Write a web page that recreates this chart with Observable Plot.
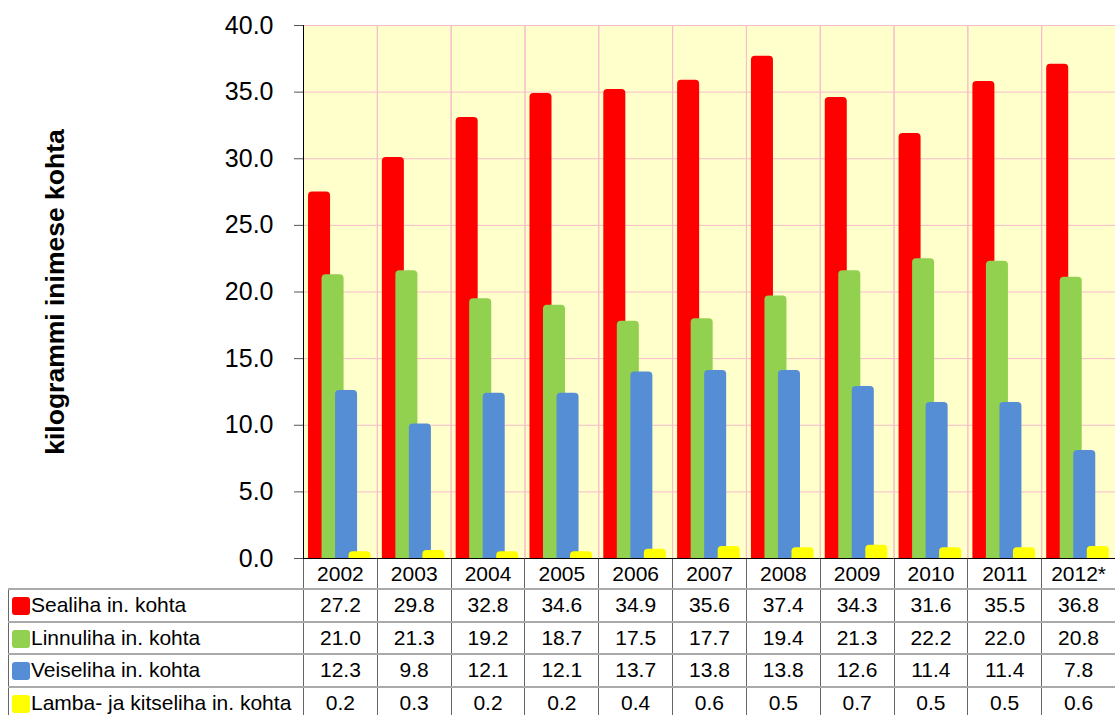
<!DOCTYPE html>
<html><head><meta charset="utf-8">
<script src="https://cdn.jsdelivr.net/npm/d3@7"></script>
<script src="https://cdn.jsdelivr.net/npm/@observablehq/plot@0.6"></script>
<style>
body{margin:0;background:#fff;font-family:"Liberation Sans",Arial,sans-serif;}
#wrap{position:relative;width:1115px;height:715px;overflow:hidden;background:#fff;}
#chart{position:absolute;left:0;top:0;z-index:1;}
#tbl{position:absolute;left:8px;top:558px;border-collapse:collapse;table-layout:fixed;width:1107px;font-size:21px;color:#000;}
#tbl td{padding:0;text-align:center;border-left:1px solid #666;border-right:1px solid #666;border-top:2px solid #aaa;border-bottom:2px solid #aaa;white-space:nowrap;overflow:hidden;}
#tbl tr.yr td{height:30px;border-top:none;}
#tbl tr.yr td.blank{border-left:none;border-top:none;}
#tbl tr.row td{height:30.5px;}
#tbl td.name{text-align:left;padding-left:3px;}
.sw{display:inline-block;width:18px;height:18px;border-radius:3px;vertical-align:-3px;margin-right:1px;}
g[aria-label="y-axis label"] text{font-weight:bold;font-size:26.5px;}
</style></head><body>
<div id="wrap"><div id="chart"></div><table id="tbl"></table></div>
<script>
const years = ["2002","2003","2004","2005","2006","2007","2008","2009","2010","2011","2012*"];
const seriesNames = ["Sealiha in. kohta","Linnuliha in. kohta","Veiseliha in. kohta","Lamba- ja kitseliha in. kohta"];
const seriesColors = ["#FF0000","#92D050","#558ED5","#FFFF00"];
const pork    = [27.2,29.8,32.8,34.6,34.9,35.6,37.4,34.3,31.6,35.5,36.8];
const poultry = [21.0,21.3,19.2,18.7,17.5,17.7,19.4,21.3,22.2,22.0,20.8];
const beef    = [12.3,9.8,12.1,12.1,13.7,13.8,13.8,12.6,11.4,11.4,7.8];
const lamb    = [0.2,0.3,0.2,0.2,0.4,0.6,0.5,0.7,0.5,0.5,0.6];
const yTicks  = [0,5,10,15,20,25,30,35,40];
const yTitle  = "kilogrammi inimese kohta";

const seriesValues = [pork, poultry, beef, lamb];
const data = seriesNames.flatMap((s,i)=>years.map((yr,j)=>({series:s, year:yr, value:seriesValues[i][j]})));

const pink = "#F7BCCB";
const chart = Plot.plot({
  width:1115, height:590,
  marginLeft:303, marginRight:0, marginTop:25, marginBottom:32,
  style:{background:"transparent", fontFamily:"Liberation Sans, Arial, sans-serif", color:"#000"},
  fx:{domain:years, padding:0, round:false, label:null},
  x:{domain:seriesNames, paddingInner:0, paddingOuter:0.73, align:0.47, round:false, axis:null},
  y:{domain:[0,40]},
  color:{domain:seriesNames, range:seriesColors},
  marks:[
    Plot.frame({fill:"#FFFFCC"}),
    Plot.gridY(yTicks, {stroke:pink, strokeOpacity:1}),
    Plot.frame({stroke:pink}),
    Plot.barY(data, {fx:"year", x:"series", y:"value", fill:"series", insetLeft:-4.25, insetRight:-4.25, insetTop:-4, ry1:4}),
    Plot.ruleY([0], {stroke:"black"}),
    Plot.frame({anchor:"left", stroke:"black", facetAnchor:"left"}),
    Plot.axisY(yTicks, {tickFormat:d3.format(".1f"), fontSize:25, tickSize:9, tickPadding:21, stroke:"#555", label:yTitle, labelAnchor:"center", labelOffset:258, labelArrow:"none"}),
    Plot.axisFx({anchor:"bottom", tickSize:0, tickPadding:8, fontSize:21, label:null})
  ]
});
document.getElementById("chart").appendChild(chart);

// data table under the chart
const tbl = document.getElementById("tbl");
const cg = document.createElement("colgroup");
const c0 = document.createElement("col"); c0.style.width = "295px"; cg.appendChild(c0);
years.forEach(()=>{const c=document.createElement("col"); c.style.width=((1107-295)/years.length)+"px"; cg.appendChild(c);});
tbl.appendChild(cg);
const yr = document.createElement("tr"); yr.className="yr";
const b = document.createElement("td"); b.className="blank"; yr.appendChild(b);
years.forEach(()=>{yr.appendChild(document.createElement("td"));});
tbl.appendChild(yr);
seriesNames.forEach((s,i)=>{
  const tr=document.createElement("tr"); tr.className="row";
  const n=document.createElement("td"); n.className="name";
  const sw=document.createElement("span"); sw.className="sw"; sw.style.background=seriesColors[i];
  n.appendChild(sw); n.appendChild(document.createTextNode(s)); tr.appendChild(n);
  seriesValues[i].forEach(v=>{const td=document.createElement("td"); td.textContent=v.toFixed(1); tr.appendChild(td);});
  tbl.appendChild(tr);
});
</script>
</body></html>
